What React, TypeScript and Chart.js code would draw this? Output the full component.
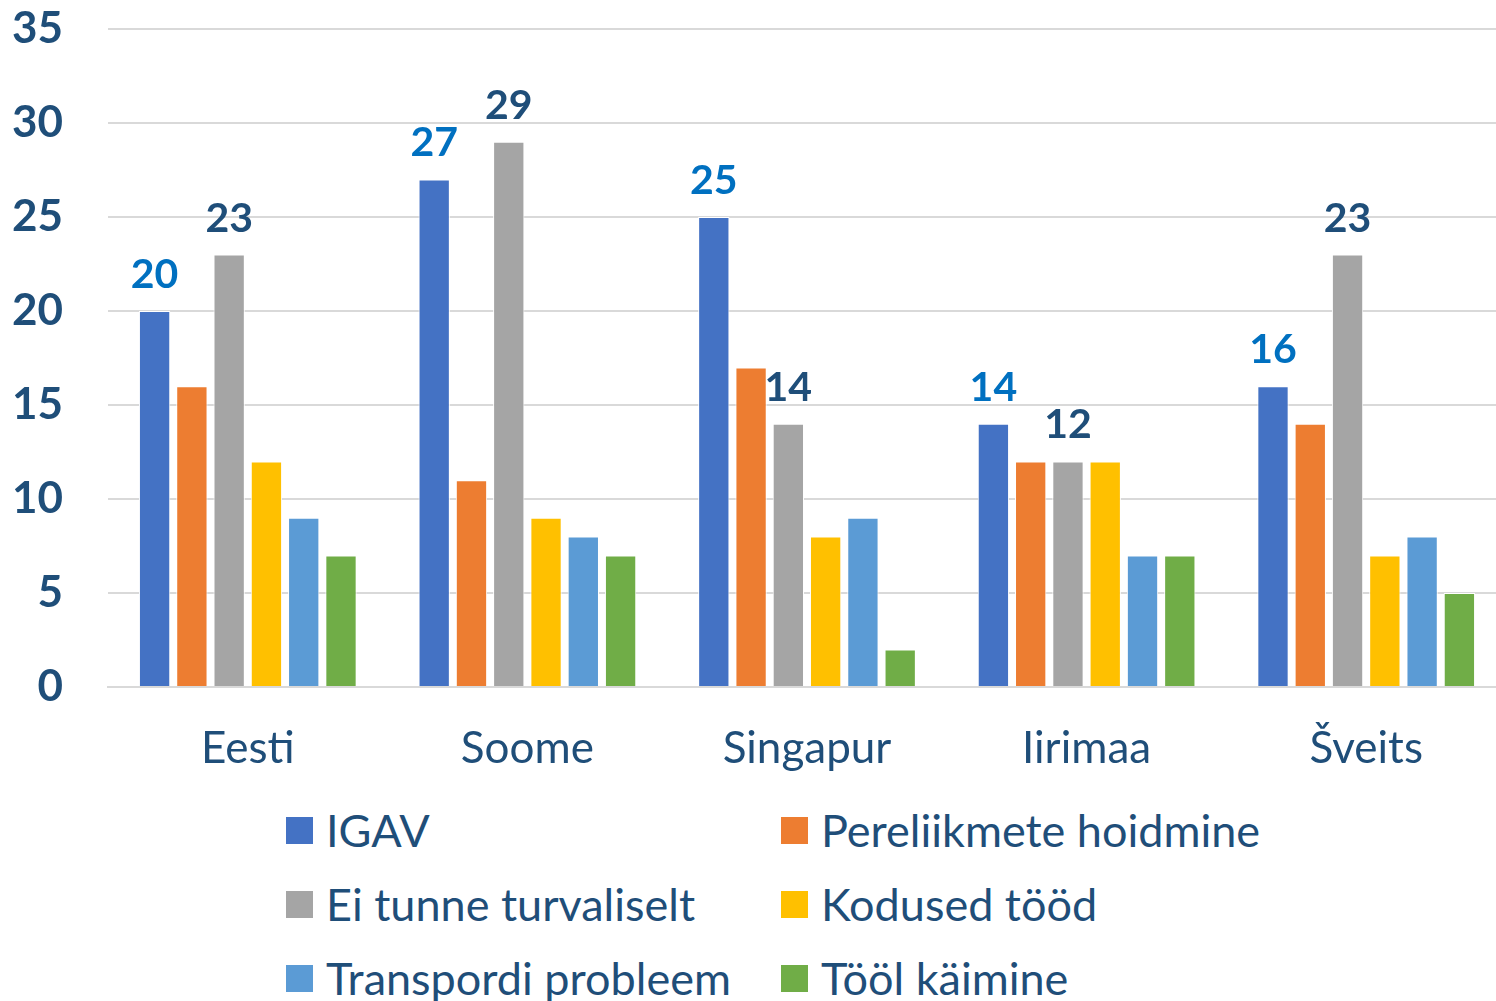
import React, { useEffect, useRef } from "react";
import { Chart, registerables } from "chart.js";

Chart.register(...registerables);

const categories = ["Eesti", "Soome", "Singapur", "Iirimaa", "Šveits"];
const seriesNames = [
  "IGAV",
  "Pereliikmete hoidmine",
  "Ei tunne turvaliselt",
  "Kodused tööd",
  "Transpordi probleem",
  "Tööl käimine",
];
const igav = [20, 27, 25, 14, 16];
const pereliikmeteHoidmine = [16, 11, 17, 12, 14];
const eiTunneTurvaliselt = [23, 29, 14, 12, 23];
const kodusedTood = [12, 9, 8, 12, 7];
const transpordiProbleem = [9, 8, 9, 7, 8];
const toolKaimine = [7, 7, 2, 7, 5];
const yTicks = [0, 5, 10, 15, 20, 25, 30, 35];

const seriesValues = [igav, pereliikmeteHoidmine, eiTunneTurvaliselt, kodusedTood, transpordiProbleem, toolKaimine];
const colors = ["#4472C4", "#ED7D31", "#A5A5A5", "#FFC000", "#5B9BD5", "#70AD47"];
const labelColors: Record<number, string> = { 0: "#0070C0", 2: "#1F4E79" };
const FONT = "Lato, 'Open Sans', sans-serif";
const TEXT = "#1F4E79";

const labelPlugin = {
  id: "barLabels",
  afterDatasetsDraw(chart: any) {
    const ctx = chart.ctx;
    ctx.save();
    ctx.font = `bold 41px ${FONT}`;
    ctx.textAlign = "center";
    ctx.textBaseline = "alphabetic";
    Object.keys(labelColors).forEach((k) => {
      const di = Number(k);
      const meta = chart.getDatasetMeta(di);
      ctx.fillStyle = labelColors[di];
      meta.data.forEach((bar: any, i: number) => {
        const v = chart.data.datasets[di].data[i];
        ctx.fillText(String(v), bar.x, bar.y - 23);
      });
    });
    ctx.restore();
  },
};

export default function App() {
  const ref = useRef<HTMLCanvasElement>(null);
  useEffect(() => {
    if (!ref.current) return;
    const chart = new Chart(ref.current, {
      type: "bar",
      data: {
        labels: categories,
        datasets: seriesValues.map((d, i) => ({
          label: seriesNames[i],
          data: d,
          backgroundColor: colors[i],
          borderColor: "#ffffff",
          borderWidth: 1,
          barPercentage: 0.84,
          categoryPercentage: 0.8,
        })),
      },
      options: {
        responsive: false,
        animation: false,
        layout: { padding: { top: 29, right: 0, left: 0, bottom: 0 } },
        plugins: { legend: { display: false }, tooltip: { enabled: false } },
        scales: {
          x: {
            grid: { display: false, drawTicks: false },
            border: { display: true, color: "#D9D9D9", width: 2 },
            ticks: { color: TEXT, font: { family: FONT, size: 44 }, padding: 35 },
            afterFit: (s: any) => { s.height = 93; s.paddingLeft = 0; s.paddingRight = 0; },
          },
          y: {
            min: 0,
            max: 35,
            afterBuildTicks: (s: any) => { s.ticks = yTicks.map((v) => ({ value: v })); },
            grid: { color: "#D9D9D9", lineWidth: 2, drawTicks: false },
            border: { display: false },
            ticks: { color: TEXT, font: { family: FONT, size: 44, weight: "bold" }, padding: 45 },
            afterFit: (s: any) => { s.width = 108; s.paddingTop = 0; s.paddingBottom = 0; },
          },
        },
      },
      plugins: [labelPlugin],
    });
    return () => chart.destroy();
  }, []);

  const legendPos = [
    { left: 286, top: 830 },
    { left: 781, top: 830 },
    { left: 286, top: 904 },
    { left: 781, top: 904 },
    { left: 286, top: 978 },
    { left: 781, top: 978 },
  ];

  return (
    <div style={{ position: "absolute", left: 0, top: 0, width: 1496, height: 1001, background: "#fff", overflow: "hidden" }}>
      <canvas ref={ref} width={1506} height={780} style={{ display: "block" }} />
      {seriesNames.map((n, i) => (
        <div
          key={n}
          style={{
            position: "absolute",
            left: legendPos[i].left,
            top: legendPos[i].top - 30,
            height: 60,
            display: "flex",
            alignItems: "center",
            whiteSpace: "nowrap",
            fontFamily: FONT,
            fontSize: 45,
            color: TEXT,
          }}
        >
          <span style={{ display: "inline-block", width: 27, height: 27, background: colors[i], marginRight: 13, flexShrink: 0 }} />
          <span>{n}</span>
        </div>
      ))}
    </div>
  );
}
